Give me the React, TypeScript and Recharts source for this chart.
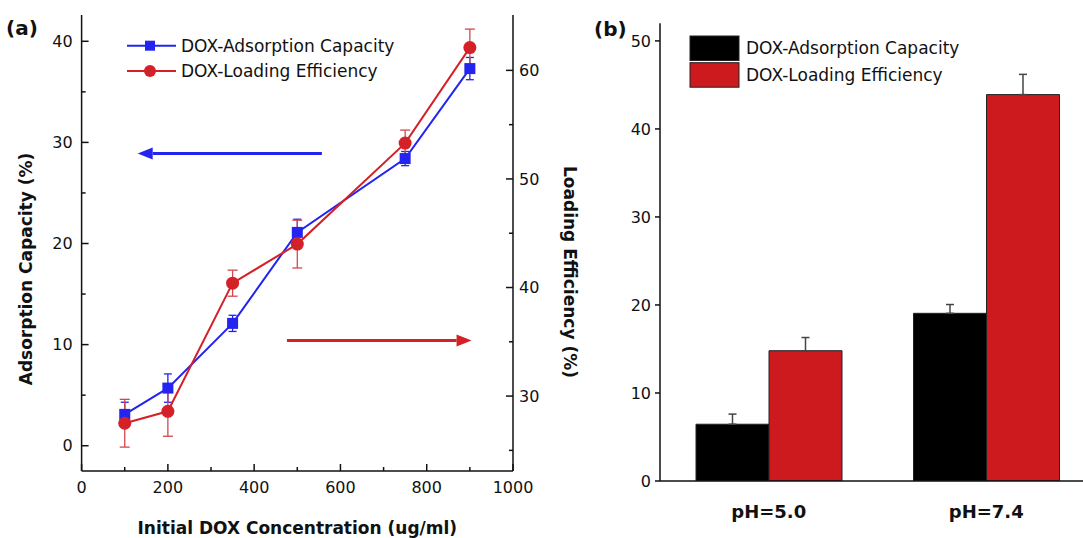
import React from "react";
import {
  ComposedChart,
  BarChart,
  Bar,
  Line,
  XAxis,
  YAxis,
  ErrorBar,
  ReferenceLine,
  Legend,
} from "recharts";

// ---- panel (a): concentration series ----
const concentrations = [100, 200, 350, 500, 750, 900];
const adsorptionCapacity = [3.1, 5.7, 12.1, 21.1, 28.4, 37.3];
const adsorptionError = [1.2, 1.4, 0.8, 1.3, 0.7, 1.1];
const loadingEfficiency = [27.5, 28.6, 40.4, 44.0, 53.3, 62.1];
const loadingError = [2.2, 2.3, 1.2, 2.2, 1.2, 1.7];

const concTicks = [0, 100, 200, 300, 400, 500, 600, 700, 800, 900, 1000];
const capacityTicks = [0, 5, 10, 15, 20, 25, 30, 35, 40];
const efficiencyTicks = [25, 30, 35, 40, 45, 50, 55, 60];

// ---- panel (b): pH bars ----
const phLabels = ["pH=5.0", "pH=7.4"];
const phAdsorption = [6.45, 19.05];
const phAdsorptionError = [1.15, 1.0];
const phLoading = [14.8, 43.9];
const phLoadingError = [1.5, 2.3];
const barTicks = [0, 10, 20, 30, 40, 50];

const FONT = "'DejaVu Sans', Verdana, sans-serif";
const INK = "#111";
const BLUE = "#2424f0";
const RED = "#d42027";
const BAR_RED = "#cc1a1e";

const lineData = concentrations.map((c, i) => ({
  conc: c,
  capacity: adsorptionCapacity[i],
  capacityErr: adsorptionError[i],
  efficiency: loadingEfficiency[i],
  efficiencyErr: loadingError[i],
}));

const barData = phLabels.map((ph, i) => ({
  ph,
  capacity: phAdsorption[i],
  capacityErr: [0, phAdsorptionError[i]],
  efficiency: phLoading[i],
  efficiencyErr: [0, phLoadingError[i]],
}));

const seriesA = [
  { name: "DOX-Adsorption Capacity", color: BLUE, marker: "square" },
  { name: "DOX-Loading Efficiency", color: RED, marker: "circle" },
];
const seriesB = [
  { name: "DOX-Adsorption Capacity", color: "#000" },
  { name: "DOX-Loading Efficiency", color: BAR_RED },
];

// inward ticks with minor marks; only majors get a label
function makeTick(side: "left" | "right" | "bottom", step: number) {
  return (props: any) => {
    const { x, y, payload } = props;
    const v = payload.value;
    const major = Math.abs(v % step) < 1e-6;
    const len = major ? 7 : 4;
    const txt = { fontSize: 16, fontFamily: FONT, fill: INK };
    if (side === "left")
      return (
        <g>
          <line x1={x} y1={y} x2={x + len} y2={y} stroke={INK} strokeWidth={1.5} />
          {major && (
            <text x={x - 9} y={y} dy="0.35em" textAnchor="end" {...txt}>
              {v}
            </text>
          )}
        </g>
      );
    if (side === "right")
      return (
        <g>
          <line x1={x} y1={y} x2={x - len} y2={y} stroke={INK} strokeWidth={1.5} />
          {major && (
            <text x={x + 6} y={y} dy="0.35em" textAnchor="start" {...txt}>
              {v}
            </text>
          )}
        </g>
      );
    return (
      <g>
        <line x1={x} y1={y} x2={x} y2={y - len} stroke={INK} strokeWidth={1.5} />
        {major && (
          <text x={x} y={y + 16} dy="0.35em" textAnchor="middle" {...txt}>
            {v}
          </text>
        )}
      </g>
    );
  };
}

function Title({ x, y, angle, text }: { x: number; y: number; angle: number; text: string }) {
  return (
    <text
      x={x}
      y={y}
      dy={angle ? "0.35em" : 0}
      textAnchor="middle"
      transform={angle ? `rotate(${angle}, ${x}, ${y})` : undefined}
      fontSize={17}
      fontWeight="bold"
      fontFamily={FONT}
      fill={INK}
    >
      {text}
    </text>
  );
}

function Arrow(props: any) {
  const { x1, y1, x2, y2, color } = props;
  const dir = x2 > x1 ? 1 : -1;
  const head = 15;
  const baseX = x2 - dir * head;
  return (
    <g>
      <line x1={x1} y1={y1} x2={baseX} y2={y2} stroke={color} strokeWidth={3} />
      <polygon points={`${x2},${y2} ${baseX},${y2 - 6} ${baseX},${y2 + 6}`} fill={color} />
    </g>
  );
}

function LegendA() {
  return (
    <svg width={300} height={52} style={{ overflow: "visible" }}>
      {seriesA.map((s, i) => {
        const cy = 12.7 + i * 25.3;
        return (
          <g key={s.name}>
            <line x1={7} x2={56} y1={cy} y2={cy} stroke={s.color} strokeWidth={2} />
            {s.marker === "square" ? (
              <rect x={25} y={cy - 5} width={10} height={10} fill={s.color} />
            ) : (
              <circle cx={30} cy={cy} r={6} fill={s.color} />
            )}
            <text x={61} y={cy} dy="0.35em" fontSize={17} fontFamily={FONT} fill={INK}>
              {s.name}
            </text>
          </g>
        );
      })}
    </svg>
  );
}

function LegendB() {
  return (
    <svg width={320} height={62} style={{ overflow: "visible" }}>
      {seriesB.map((s, i) => {
        const top = 6 + i * 26.7;
        return (
          <g key={s.name}>
            <rect x={5} y={top} width={49} height={24.5} fill={s.color} stroke="#222" strokeWidth={1} />
            <text x={61} y={top + 12} dy="0.35em" fontSize={17} fontFamily={FONT} fill={INK}>
              {s.name}
            </text>
          </g>
        );
      })}
    </svg>
  );
}

const axisLine = { stroke: INK, strokeWidth: 1.5 };

function SquareDot(props: any) {
  const { cx, cy } = props;
  if (cx == null || cy == null) return null;
  return <rect x={cx - 5.5} y={cy - 5.5} width={11} height={11} fill={BLUE} />;
}

function CircleDot(props: any) {
  const { cx, cy } = props;
  if (cx == null || cy == null) return null;
  return <circle cx={cx} cy={cy} r={6.5} fill={RED} />;
}

const panelLetter: React.CSSProperties = {
  position: "absolute",
  fontFamily: FONT,
  fontWeight: "bold",
  fontSize: 20,
  lineHeight: "20px",
  color: INK,
};

export default function App() {
  return (
    <div
      style={{
        position: "absolute",
        left: 0,
        top: 0,
        width: 1083,
        height: 538,
        overflow: "hidden",
        background: "#fff",
        fontFamily: FONT,
      }}
    >
      <div style={{ position: "absolute", left: 0, top: 0 }}>
        <ComposedChart width={600} height={538} data={lineData} margin={{ top: 15, right: 0, bottom: 0, left: 0 }}>
          <XAxis
            dataKey="conc"
            type="number"
            domain={[0, 1000]}
            ticks={concTicks}
            interval={0}
            allowDataOverflow
            height={67}
            axisLine={axisLine}
            tickLine={false}
            tickSize={0}
            tickMargin={0}
            tick={makeTick("bottom", 200)}
            label={{
              value: "Initial DOX Concentration (ug/ml)",
              content: () => <Title x={297.3} y={534} angle={0} text="Initial DOX Concentration (ug/ml)" />,
            }}
          />
          <XAxis
            xAxisId="top"
            orientation="top"
            dataKey="conc"
            type="number"
            domain={[0, 1000]}
            height={0}
            tick={false}
            tickLine={false}
            axisLine={axisLine}
          />
          <YAxis
            yAxisId="left"
            width={81.6}
            domain={[-2.5, 42.6]}
            ticks={capacityTicks}
            interval={0}
            allowDataOverflow
            axisLine={axisLine}
            tickLine={false}
            tickSize={0}
            tickMargin={0}
            tick={makeTick("left", 10)}
            label={{
              value: "Adsorption Capacity (%)",
              content: () => <Title x={26.5} y={269} angle={-90} text="Adsorption Capacity (%)" />,
            }}
          />
          <YAxis
            yAxisId="right"
            orientation="right"
            width={87}
            domain={[23.1, 65.1]}
            ticks={efficiencyTicks}
            interval={0}
            allowDataOverflow
            axisLine={axisLine}
            tickLine={false}
            tickSize={0}
            tickMargin={0}
            tick={makeTick("right", 10)}
            label={{
              value: "Loading Efficiency (%)",
              content: () => <Title x={570} y={272} angle={90} text="Loading Efficiency (%)" />,
            }}
          />
          <Legend
            layout="vertical"
            align="center"
            verticalAlign="middle"
            wrapperStyle={{ top: 33, left: 120, width: 300, height: 52 }}
            content={() => <LegendA />}
          />
          <ReferenceLine
            yAxisId="left"
            segment={[{ x: 557, y: 28.9 }, { x: 130, y: 28.9 }]}
            shape={(p: any) => <Arrow {...p} color={BLUE} />}
          />
          <ReferenceLine
            yAxisId="left"
            segment={[{ x: 476, y: 10.4 }, { x: 904, y: 10.4 }]}
            shape={(p: any) => <Arrow {...p} color={RED} />}
          />
          <Line
            yAxisId="left"
            dataKey="capacity"
            name="DOX-Adsorption Capacity"
            type="linear"
            stroke={BLUE}
            strokeWidth={2}
            dot={<SquareDot />}
            activeDot={false}
            isAnimationActive={false}
          >
            <ErrorBar dataKey="capacityErr" direction="y" width={4} stroke={BLUE} strokeWidth={1.3} />
          </Line>
          <Line
            yAxisId="right"
            dataKey="efficiency"
            name="DOX-Loading Efficiency"
            type="linear"
            stroke={RED}
            strokeWidth={2}
            dot={<CircleDot />}
            activeDot={false}
            isAnimationActive={false}
          >
            <ErrorBar dataKey="efficiencyErr" direction="y" width={5} stroke="#d5474c" strokeWidth={1.3} />
          </Line>
        </ComposedChart>
      </div>

      <div style={{ position: "absolute", left: 600, top: 0 }}>
        <BarChart
          width={540}
          height={538}
          data={barData}
          margin={{ top: 23.3, right: 45, bottom: 0, left: 0 }}
          barCategoryGap={36}
          barGap={0}
        >
          <XAxis
            dataKey="ph"
            height={57}
            axisLine={axisLine}
            tickLine={false}
            tickSize={0}
            tickMargin={0}
            interval={0}
            tick={(p: any) => (
              <text
                x={p.x}
                y={p.y + 37}
                textAnchor="middle"
                fontSize={18}
                fontWeight="bold"
                fontFamily={FONT}
                fill={INK}
              >
                {p.payload.value}
              </text>
            )}
          />
          <XAxis xAxisId="top" orientation="top" dataKey="ph" height={0} tick={false} tickLine={false} axisLine={axisLine} />
          <YAxis
            width={60}
            domain={[0, 52]}
            ticks={barTicks}
            interval={0}
            allowDataOverflow
            axisLine={axisLine}
            tickLine={{ stroke: INK, strokeWidth: 1.5 }}
            tickSize={5}
            tickMargin={4}
            tick={{ fill: INK, fontSize: 16, fontFamily: FONT }}
          />
          <Legend
            layout="vertical"
            align="center"
            verticalAlign="middle"
            wrapperStyle={{ top: 30, left: 85, width: 320, height: 62 }}
            content={() => <LegendB />}
          />
          <Bar dataKey="capacity" name="DOX-Adsorption Capacity" fill="#000" stroke="#222" strokeWidth={1} isAnimationActive={false}>
            <ErrorBar dataKey="capacityErr" width={4} stroke="#444" strokeWidth={1.5} />
          </Bar>
          <Bar dataKey="efficiency" name="DOX-Loading Efficiency" fill={BAR_RED} stroke="#222" strokeWidth={1} isAnimationActive={false}>
            <ErrorBar dataKey="efficiencyErr" width={4} stroke="#444" strokeWidth={1.5} />
          </Bar>
        </BarChart>
      </div>

      <div style={{ ...panelLetter, left: 6, top: 18 }}>(a)</div>
      <div style={{ ...panelLetter, left: 594, top: 19 }}>(b)</div>
    </div>
  );
}
